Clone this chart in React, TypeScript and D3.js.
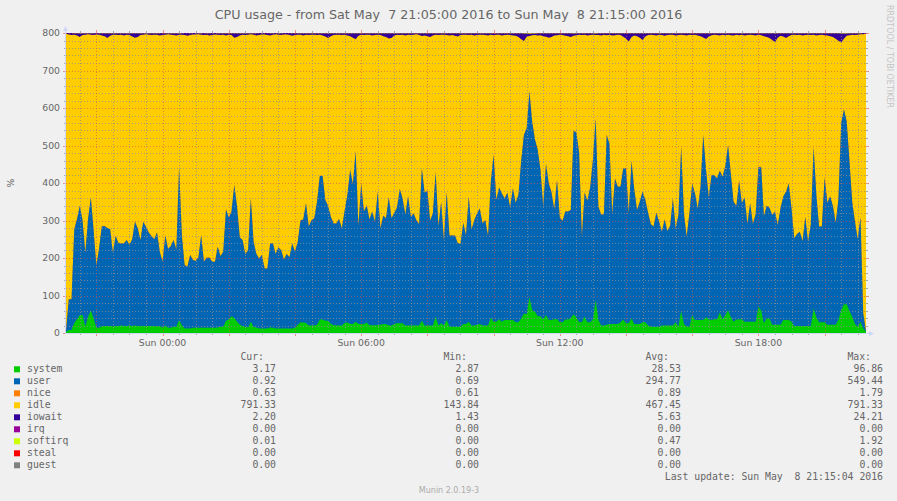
import React from 'react';
import * as d3 from 'd3';

// ---------------- data ----------------
const START = new Date(2016, 4, 7, 21, 5, 0);
const END = new Date(2016, 4, 8, 21, 15, 0);
const STEP_MINUTES = 5;
const CPU_CAPACITY = 800; // 8 cores x 100 %

const system = [
  3, 8, 8, 27, 37, 48, 48, 17, 43, 61,
  39, 14, 14, 18, 19, 19, 19, 18, 19, 19,
  20, 19, 19, 20, 19, 20, 19, 19, 19, 19,
  19, 19, 18, 18, 18, 15, 20, 14, 14, 17,
  17, 35, 20, 12, 12, 12, 14, 14, 14, 14,
  14, 14, 14, 14, 14, 15, 17, 17, 33, 36,
  45, 40, 30, 22, 19, 17, 15, 30, 16, 15,
  12, 12, 12, 12, 15, 14, 12, 12, 12, 12,
  12, 12, 12, 14, 22, 28, 28, 27, 20, 20,
  20, 22, 36, 36, 33, 33, 25, 21, 20, 20,
  20, 27, 28, 24, 24, 30, 24, 24, 24, 28,
  21, 21, 21, 21, 22, 24, 24, 20, 20, 24,
  26, 26, 26, 20, 20, 20, 20, 20, 20, 33,
  20, 20, 20, 20, 44, 20, 26, 20, 35, 17,
  17, 17, 17, 17, 24, 24, 30, 20, 20, 22,
  24, 20, 20, 20, 41, 30, 30, 37, 30, 35,
  35, 35, 35, 29, 29, 39, 52, 50, 96, 61,
  57, 45, 45, 36, 48, 35, 35, 37, 37, 29,
  29, 36, 36, 40, 50, 42, 29, 29, 44, 29,
  29, 36, 88, 35, 20, 20, 22, 24, 24, 24,
  24, 28, 36, 26, 26, 39, 24, 24, 24, 29,
  29, 20, 17, 17, 17, 17, 20, 20, 20, 20,
  20, 29, 17, 59, 24, 17, 17, 48, 35, 35,
  35, 35, 42, 36, 35, 37, 37, 55, 37, 48,
  61, 42, 30, 36, 36, 37, 30, 30, 30, 30,
  30, 70, 60, 26, 39, 39, 22, 22, 22, 22,
  35, 35, 35, 30, 19, 19, 19, 19, 19, 19,
  19, 66, 42, 29, 29, 29, 22, 22, 22, 22,
  35, 61, 77, 77, 59, 44, 24, 17, 30, 12,
  3.17,
];

const user = [
  1, 82, 82, 250, 267, 291, 252, 197, 261, 301,
  236, 166, 212, 267, 266, 261, 258, 196, 240, 221,
  219, 220, 229, 215, 231, 277, 260, 229, 278, 264,
  249, 239, 232, 250, 199, 175, 241, 210, 218, 231,
  206, 408, 239, 169, 165, 196, 181, 178, 188, 247,
  176, 187, 187, 176, 176, 215, 188, 200, 297, 272,
  279, 355, 307, 233, 229, 193, 206, 329, 227, 196,
  187, 196, 160, 160, 224, 225, 199, 216, 209, 184,
  199, 190, 227, 203, 221, 272, 275, 319, 264, 281,
  286, 328, 383, 383, 322, 306, 285, 271, 272, 284,
  259, 299, 340, 411, 373, 455, 261, 375, 300, 313,
  282, 303, 276, 356, 257, 289, 282, 342, 286, 296,
  309, 358, 333, 296, 345, 290, 299, 281, 270, 406,
  354, 360, 280, 299, 386, 264, 324, 226, 340, 243,
  243, 243, 223, 220, 270, 237, 334, 256, 281, 297,
  308, 272, 281, 239, 363, 445, 325, 351, 342, 324,
  339, 300, 351, 318, 339, 420, 476, 496, 548, 501,
  459, 443, 390, 301, 403, 364, 340, 293, 371, 279,
  270, 288, 288, 288, 489, 493, 452, 228, 331, 324,
  359, 425, 484, 302, 296, 296, 506, 480, 293, 388,
  366, 362, 403, 413, 293, 420, 359, 304, 326, 348,
  326, 301, 273, 267, 304, 280, 250, 283, 252, 266,
  339, 250, 298, 438, 295, 240, 304, 351, 337, 297,
  353, 493, 394, 326, 386, 384, 375, 378, 380, 397,
  440, 382, 320, 303, 370, 309, 332, 261, 316, 261,
  287, 372, 382, 286, 300, 295, 293, 302, 266, 310,
  329, 342, 364, 302, 233, 245, 251, 226, 291, 224,
  272, 431, 326, 255, 255, 386, 325, 342, 317, 272,
  321, 498, 519, 487, 400, 306, 273, 233, 278, 40,
  0.92,
];

const nice = [
  0.63, 0.8, 0.9, 1.0, 0.9, 0.8, 1.1, 0.9, 0.8, 1.0,
  0.8, 0.9, 1.2, 0.8, 0.7, 0.9, 0.8, 0.8, 0.9, 0.8,
  0.7, 0.8, 0.9, 0.8, 0.7, 1.0, 0.9, 0.8, 0.9, 0.8,
  0.8, 0.7, 0.8, 0.9, 0.7, 0.7, 0.8, 0.7, 0.8, 0.8,
  0.7, 1.3, 0.8, 0.7, 0.7, 0.7, 0.7, 0.7, 0.7, 0.8,
  0.7, 0.7, 0.7, 0.7, 0.7, 0.8, 0.7, 0.8, 1.0, 0.9,
  1.0, 1.2, 1.0, 0.8, 0.8, 0.7, 0.7, 1.1, 0.8, 0.7,
  0.7, 0.7, 0.6, 0.6, 0.8, 0.8, 0.7, 0.8, 0.7, 0.7,
  0.7, 0.7, 0.8, 0.7, 0.8, 0.9, 0.9, 1.0, 0.9, 0.9,
  0.9, 1.0, 1.2, 1.2, 1.0, 1.0, 0.9, 0.9, 0.9, 0.9,
  0.9, 0.9, 1.0, 1.2, 1.1, 1.4, 0.9, 1.1, 1.0, 1.0,
  0.9, 1.0, 0.9, 1.1, 0.9, 0.9, 0.9, 1.0, 0.9, 0.9,
  1.0, 1.1, 1.0, 0.9, 1.0, 0.9, 0.9, 0.9, 0.9, 1.2,
  1.1, 1.1, 0.9, 0.9, 1.2, 0.9, 1.0, 0.8, 1.0, 0.8,
  0.8, 0.8, 0.8, 0.8, 0.9, 0.8, 1.0, 0.9, 0.9, 0.9,
  1.0, 0.9, 0.9, 0.8, 1.1, 1.3, 1.0, 1.0, 1.0, 1.0,
  1.0, 0.9, 1.0, 0.9, 1.0, 1.2, 1.4, 1.4, 1.79, 1.5,
  1.3, 1.3, 1.2, 1.0, 1.2, 1.1, 1.0, 0.9, 1.1, 0.9,
  0.9, 0.9, 0.9, 0.9, 1.4, 1.4, 1.3, 0.8, 1.0, 1.0,
  1.0, 1.2, 1.4, 0.9, 0.9, 0.9, 1.4, 1.4, 0.9, 1.1,
  1.1, 1.1, 1.2, 1.2, 0.9, 1.2, 1.1, 0.9, 1.0, 1.0,
  1.0, 0.9, 0.8, 0.8, 0.9, 0.9, 0.8, 0.9, 0.8, 0.8,
  1.0, 0.8, 0.9, 1.3, 0.9, 0.8, 0.9, 1.0, 1.0, 0.9,
  1.0, 1.4, 1.1, 1.0, 1.1, 1.1, 1.1, 1.1, 1.1, 1.1,
  1.3, 1.1, 1.0, 0.9, 1.1, 0.9, 1.0, 0.8, 0.9, 0.8,
  0.9, 1.1, 1.1, 0.9, 0.9, 0.9, 0.9, 0.9, 0.8, 0.9,
  1.0, 1.0, 1.1, 0.9, 0.8, 0.8, 0.8, 0.8, 0.9, 0.8,
  0.8, 1.3, 1.0, 0.8, 0.8, 1.1, 1.0, 1.0, 0.9, 0.8,
  1.0, 1.5, 1.5, 1.4, 1.2, 0.9, 0.8, 0.7, 0.8, 0.61,
  0.63,
];

const iowait = [
  2, 4, 5, 4, 6, 10, 5, 4, 3, 4,
  5, 4, 4, 6, 8, 13, 7, 4, 4, 5,
  4, 6, 4, 5, 9, 12, 10, 5, 4, 3,
  4, 5, 4, 4, 6, 5, 4, 3, 4, 5,
  6, 4, 4, 5, 7, 5, 4, 4, 3, 4,
  5, 4, 6, 5, 4, 4, 5, 4, 6, 4,
  5, 12, 10, 6, 4, 5, 4, 3, 4, 6,
  5, 4, 4, 5, 6, 4, 3, 4, 5, 4,
  4, 5, 7, 5, 4, 4, 6, 4, 5, 4,
  4, 5, 4, 6, 9, 13, 8, 5, 4, 4,
  5, 4, 6, 8, 12, 16, 7, 4, 5, 4,
  4, 6, 5, 4, 5, 8, 10, 14, 13, 6,
  4, 5, 4, 6, 4, 5, 4, 3, 5, 7,
  6, 8, 10, 6, 4, 5, 4, 4, 5, 6,
  5, 7, 9, 5, 4, 4, 5, 4, 6, 5,
  4, 4, 5, 6, 4, 5, 4, 4, 6, 5,
  4, 5, 6, 7, 10, 16, 20, 9, 6, 5,
  4, 6, 5, 8, 9, 12, 10, 6, 5, 4,
  5, 7, 8, 10, 6, 5, 4, 5, 4, 6,
  5, 4, 4, 5, 6, 4, 5, 4, 6, 5,
  4, 5, 9, 14, 22, 10, 6, 8, 12, 18,
  9, 5, 4, 5, 6, 4, 5, 7, 5, 4,
  4, 6, 5, 4, 5, 6, 4, 5, 4, 6,
  8, 11, 15, 9, 5, 4, 5, 6, 4, 5,
  4, 5, 6, 4, 5, 4, 6, 5, 4, 5,
  6, 4, 5, 8, 10, 13, 18, 24, 12, 7,
  9, 13, 8, 5, 4, 5, 4, 6, 5, 4,
  5, 4, 6, 5, 4, 5, 6, 8, 10, 15,
  20, 24, 14, 6, 5, 4, 5, 4, 3, 3,
  2.2,
];

const softirq = [
  0.2, 0.3, 0.3, 0.5, 0.6, 0.7, 0.6, 0.4, 0.6, 0.8,
  0.6, 0.3, 0.4, 0.5, 0.5, 0.5, 0.5, 0.4, 0.5, 0.4,
  0.4, 0.4, 0.5, 0.4, 0.5, 0.6, 0.5, 0.4, 0.5, 0.5,
  0.4, 0.4, 0.4, 0.5, 0.4, 0.3, 0.5, 0.4, 0.4, 0.4,
  0.4, 0.8, 0.5, 0.3, 0.3, 0.4, 0.3, 0.3, 0.4, 0.5,
  0.3, 0.4, 0.4, 0.3, 0.3, 0.4, 0.4, 0.4, 0.6, 0.5,
  0.6, 0.7, 0.6, 0.4, 0.4, 0.4, 0.4, 0.6, 0.4, 0.4,
  0.3, 0.3, 0.3, 0.3, 0.4, 0.4, 0.3, 0.4, 0.4, 0.3,
  0.3, 0.3, 0.4, 0.3, 0.4, 0.5, 0.5, 0.6, 0.5, 0.5,
  0.5, 0.6, 0.7, 0.7, 0.6, 0.6, 0.5, 0.5, 0.5, 0.5,
  0.5, 0.5, 0.6, 0.7, 0.7, 0.8, 0.5, 0.6, 0.5, 0.6,
  0.5, 0.5, 0.5, 0.6, 0.5, 0.5, 0.5, 0.6, 0.5, 0.5,
  0.5, 0.6, 0.6, 0.5, 0.6, 0.5, 0.5, 0.5, 0.5, 0.7,
  0.6, 0.6, 0.5, 0.5, 0.8, 0.5, 0.6, 0.4, 0.6, 0.4,
  0.4, 0.4, 0.4, 0.4, 0.5, 0.4, 0.6, 0.5, 0.5, 0.5,
  0.5, 0.5, 0.5, 0.4, 0.7, 0.8, 0.6, 0.6, 0.6, 0.6,
  0.6, 0.6, 0.6, 0.5, 0.6, 0.8, 1.0, 1.1, 1.92, 1.2,
  1.0, 0.9, 0.8, 0.6, 0.8, 0.7, 0.6, 0.6, 0.7, 0.5,
  0.5, 0.6, 0.6, 0.6, 1.0, 0.9, 0.8, 0.5, 0.6, 0.6,
  0.6, 0.7, 1.1, 0.6, 0.5, 0.5, 0.9, 0.9, 0.5, 0.7,
  0.7, 0.6, 0.7, 0.7, 0.5, 0.8, 0.6, 0.6, 0.6, 0.6,
  0.6, 0.5, 0.5, 0.4, 0.5, 0.5, 0.4, 0.5, 0.4, 0.4,
  0.6, 0.5, 0.5, 0.9, 0.5, 0.4, 0.5, 0.6, 0.6, 0.5,
  0.6, 0.9, 0.7, 0.6, 0.7, 0.7, 0.6, 0.7, 0.7, 0.7,
  0.8, 0.7, 0.6, 0.5, 0.7, 0.5, 0.6, 0.5, 0.5, 0.5,
  0.5, 0.7, 0.7, 0.5, 0.6, 0.6, 0.5, 0.5, 0.4, 0.5,
  0.6, 0.6, 0.6, 0.5, 0.4, 0.4, 0.4, 0.4, 0.5, 0.4,
  0.4, 0.9, 0.6, 0.5, 0.5, 0.7, 0.5, 0.5, 0.5, 0.4,
  0.6, 1.0, 1.1, 1.0, 0.8, 0.6, 0.5, 0.4, 0.5, 0.2,
  0.01,
];

const yTickValues = [0, 100, 200, 300, 400, 500, 600, 700, 800];

const legendNames = ['system', 'user', 'nice', 'idle', 'iowait', 'irq', 'softirq', 'steal', 'guest'];
const legendColors = ['#00CC00', '#0066B3', '#FF8000', '#FFCC00', '#330099', '#990099', '#CCFF00', '#FF0000', '#808080'];
const legendCur = ['3.17', '0.92', '0.63', '791.33', '2.20', '0.00', '0.01', '0.00', '0.00'];
const legendMin = ['2.87', '0.69', '0.61', '143.84', '1.43', '0.00', '0.00', '0.00', '0.00'];
const legendAvg = ['28.53', '294.77', '0.89', '467.45', '5.63', '0.00', '0.47', '0.00', '0.00'];
const legendMax = ['96.86', '549.44', '1.79', '791.33', '24.21', '0.00', '1.92', '0.00', '0.00'];
const legendHeaders = ['Cur:', 'Min:', 'Avg:', 'Max:'];

const TITLE = 'CPU usage - from Sat May  7 21:05:00 2016 to Sun May  8 21:15:00 2016';
const LAST_UPDATE = 'Last update: Sun May  8 21:15:04 2016';
const FOOTER = 'Munin 2.0.19-3';
const WATERMARK = 'RRDTOOL / TOBI OETIKER';
const Y_LABEL = '%';

// ---------------- chart ----------------
const W = 897;
const H = 501;
const PX0 = 66;
const PX1 = 866;
const PY0 = 33;
const PY1 = 333;

const SANS = '"DejaVu Sans", Verdana, sans-serif';
const MONO = '"DejaVu Sans Mono", monospace';
const FONT_COLOR = '#666666';
const AXIS_COLOR = '#CFD6F8';
const GRID = 'rgba(143,143,143,0.75)';
const MGRID = 'rgba(222,79,79,0.6)';
const DASH = '1 2';

export default function App() {
  const n = Math.min(system.length, user.length, nice.length, iowait.length, softirq.length);
  const times = d3.range(n).map((i) => new Date(START.getTime() + i * STEP_MINUTES * 60000));
  const idle = d3.range(n).map((i) => CPU_CAPACITY - system[i] - user[i] - nice[i] - iowait[i] - softirq[i]);

  const x = d3.scaleTime().domain([START, END]).range([PX0, PX1]);
  const y = d3.scaleLinear().domain([0, CPU_CAPACITY]).range([PY1, PY0]);

  const stackSeries = [
    { key: 'system', values: system, color: '#00CC00' },
    { key: 'user', values: user, color: '#0066B3' },
    { key: 'nice', values: nice, color: '#FF8000' },
    { key: 'idle', values: idle, color: '#FFCC00' },
    { key: 'iowait', values: iowait, color: '#330099' },
    { key: 'softirq', values: softirq, color: '#CCFF00' },
  ];
  const rows = d3.range(n).map((i) => {
    const r: Record<string, number> = {};
    stackSeries.forEach((s) => (r[s.key] = s.values[i]));
    return r;
  });
  const stacked = d3.stack<Record<string, number>>().keys(stackSeries.map((s) => s.key))(rows);

  const area = d3
    .area<[number, number]>()
    .x((_, i) => x(times[i]))
    .y0(y(0))
    .y1((d) => y(d[1]))
    .curve(d3.curveLinear);

  const yMinor = d3.range(0, CPU_CAPACITY + 1, 20).filter((v) => v % 100 !== 0);
  const xMajor = d3.timeHour.every(2)!.range(START, END);
  const xMinor = d3.timeMinute
    .every(30)!
    .range(START, END)
    .filter((t) => !(t.getMinutes() === 0 && t.getHours() % 2 === 0));
  const xLabels = d3.timeHour.every(6)!.range(START, END);
  const fmt = d3.timeFormat('%a %H:%M');

  const px = (v: number) => Math.round(v) + 0.5;

  const legendTop = 372.3;
  const rowH = 12;
  const colEnds = [276, 479, 681, 883];
  const colValues = [legendCur, legendMin, legendAvg, legendMax];
  const pre = { whiteSpace: 'pre' as const };

  return (
    <div style={{ position: 'absolute', left: 0, top: 0, width: W, height: H }}>
      <svg width={W} height={H} viewBox={`0 0 ${W} ${H}`} style={{ display: 'block' }}>
        <rect x={0} y={0} width={W} height={H} fill="#F0F0F0" />
        <rect x={PX0} y={PY0} width={PX1 - PX0} height={PY1 - PY0} fill="#FFFFFF" />

        {/* stacked areas, drawn top layer first from the baseline */}
        {stacked
          .slice()
          .reverse()
          .map((layer) => {
            const s = stackSeries.find((q) => q.key === layer.key)!;
            return <path key={layer.key} d={area(layer as any) || ''} fill={s.color} />;
          })}

        {/* grid */}
        <g strokeWidth={1} fill="none">
          {yMinor.map((v) => (
            <line key={'ym' + v} x1={PX0} x2={PX1} y1={px(y(v))} y2={px(y(v))} stroke={GRID} strokeDasharray={DASH} />
          ))}
          {xMinor.map((t) => (
            <line key={'xm' + t.getTime()} x1={px(x(t))} x2={px(x(t))} y1={PY0} y2={PY1} stroke={GRID} strokeDasharray={DASH} />
          ))}
          {yTickValues.map((v) => (
            <line key={'yM' + v} x1={PX0} x2={PX1} y1={px(y(v))} y2={px(y(v))} stroke={MGRID} strokeDasharray={DASH} />
          ))}
          {xMajor.map((t) => (
            <line key={'xM' + t.getTime()} x1={px(x(t))} x2={px(x(t))} y1={PY0} y2={PY1} stroke={MGRID} strokeDasharray={DASH} />
          ))}
          {/* outside tick marks */}
          {yMinor.map((v) => (
            <g key={'yt' + v} stroke={GRID}>
              <line x1={PX0 - 2} x2={PX0} y1={px(y(v))} y2={px(y(v))} />
              <line x1={PX1} x2={PX1 + 2} y1={px(y(v))} y2={px(y(v))} />
            </g>
          ))}
          {yTickValues.map((v) => (
            <g key={'yT' + v} stroke={MGRID}>
              <line x1={PX0 - 3} x2={PX0} y1={px(y(v))} y2={px(y(v))} />
              <line x1={PX1} x2={PX1 + 3} y1={px(y(v))} y2={px(y(v))} />
            </g>
          ))}
          {xMinor.map((t) => (
            <g key={'xt' + t.getTime()} stroke={GRID}>
              <line x1={px(x(t))} x2={px(x(t))} y1={PY1} y2={PY1 + 2} />
              <line x1={px(x(t))} x2={px(x(t))} y1={PY0 - 2} y2={PY0} />
            </g>
          ))}
          {xMajor.map((t) => (
            <g key={'xT' + t.getTime()} stroke={MGRID}>
              <line x1={px(x(t))} x2={px(x(t))} y1={PY1} y2={PY1 + 3} />
              <line x1={px(x(t))} x2={px(x(t))} y1={PY0 - 3} y2={PY0} />
            </g>
          ))}
        </g>

        {/* axes + arrows */}
        <line x1={PX0 - 0.5} x2={PX0 - 0.5} y1={PY1 + 1} y2={PY0 - 4} stroke={AXIS_COLOR} strokeWidth={1} />
        <line x1={PX0 - 1} x2={PX1 + 4} y1={PY1 + 0.5} y2={PY1 + 0.5} stroke={AXIS_COLOR} strokeWidth={1} />
        <path d={`M${PX0 - 3},${PY0 - 2} L${PX0 + 2},${PY0 - 2} L${PX0 - 0.5},${PY0 - 7} Z`} fill={AXIS_COLOR} />
        <path d={`M${PX1 + 3},${PY1 - 2} L${PX1 + 3},${PY1 + 3} L${PX1 + 8},${PY1 + 0.5} Z`} fill={AXIS_COLOR} />

        {/* y tick labels */}
        {yTickValues.map((v) => (
          <text key={'yl' + v} x={60} y={y(v) + 3.3} textAnchor="end" fontFamily={SANS} fontSize={9.3} fill={FONT_COLOR}>
            {v}
          </text>
        ))}
        {/* x labels */}
        {xLabels.map((t) => (
          <text key={'xl' + t.getTime()} x={x(t)} y={345.7} textAnchor="middle" fontFamily={SANS} fontSize={9.3} fill={FONT_COLOR}>
            {fmt(t)}
          </text>
        ))}

        {/* y label */}
        <text
          transform={`translate(13.5, ${(PY0 + PY1) / 2}) rotate(-90)`}
          textAnchor="middle"
          fontFamily={SANS}
          fontSize={9.3}
          fill={FONT_COLOR}
        >
          {Y_LABEL}
        </text>

        {/* title */}
        <text x={448.5} y={18.5} textAnchor="middle" fontFamily={SANS} fontSize={12.7} fill={FONT_COLOR} xmlSpace="preserve" style={pre}>
          {TITLE}
        </text>

        {/* watermark */}
        <text transform={`translate(886.5, 56.5) rotate(90)`} textAnchor="middle" fontFamily={SANS} fontSize={8} fill="#C4C4C4">
          {WATERMARK}
        </text>

        {/* legend */}
        <g fontFamily={MONO} fontSize={9.8} fill={FONT_COLOR}>
          {legendHeaders.map((h, k) => (
            <text key={'h' + h} x={colEnds[k] - 12} y={legendTop - rowH} textAnchor="end">
              {h}
            </text>
          ))}
          {legendNames.map((name, i) => (
            <g key={name}>
              <rect x={14} y={legendTop + i * rowH - 6} width={6} height={6} fill={legendColors[i]} />
              <text x={27} y={legendTop + i * rowH}>
                {name}
              </text>
              {colValues.map((vals, k) => (
                <text key={k} x={colEnds[k]} y={legendTop + i * rowH} textAnchor="end">
                  {vals[i]}
                </text>
              ))}
            </g>
          ))}
          <text x={883} y={legendTop + legendNames.length * rowH} textAnchor="end" xmlSpace="preserve" style={pre}>
            {LAST_UPDATE}
          </text>
        </g>

        <text x={449} y={492.7} textAnchor="middle" fontFamily={SANS} fontSize={8} fill="#ABABAB">
          {FOOTER}
        </text>
      </svg>
    </div>
  );
}
